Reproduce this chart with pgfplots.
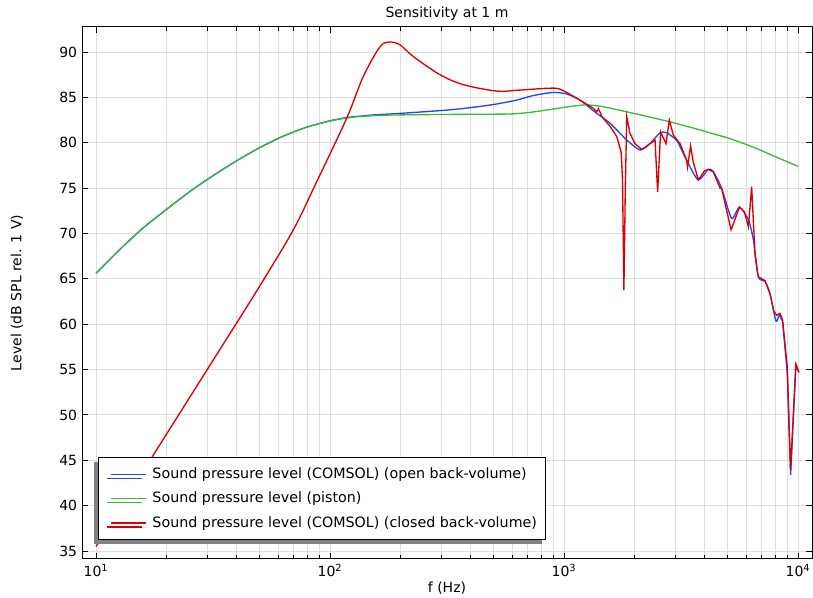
\documentclass[border=0pt]{standalone}
\usepackage{pgfplots}
\pgfplotsset{compat=1.18}
\usepackage{fontspec}
\setmainfont{DejaVu Sans}
\usetikzlibrary{shadows}
\definecolor{cblue}{RGB}{30,70,255}
\definecolor{cgreen}{RGB}{55,188,55}
\definecolor{cred}{RGB}{218,0,0}
\definecolor{cgrid}{RGB}{222,222,222}
\begin{document}
\fontsize{10.5pt}{12.6pt}\selectfont
\begin{tikzpicture}
\begin{axis}[
  scale only axis, width=547.5pt, height=399pt,
  xmode=log, xmin=8.71, xmax=11477, ymin=34.12, ymax=92.76,
  xtick={10,100,1000,10000},
  xticklabels={10\textsuperscript{1},10\textsuperscript{2},10\textsuperscript{3},10\textsuperscript{4}},
  minor xtick={20,30,40,50,60,70,80,90,200,300,400,500,600,700,800,900,2000,3000,4000,5000,6000,7000,8000,9000},
  ytick={35,40,45,50,55,60,65,70,75,80,85,90},
  /pgf/number format/assume math mode=true,
  grid=both,
  major grid style={cgrid, line width=0.75pt},
  minor grid style={cgrid, line width=0.75pt},
  tick align=inside, xtick pos=both, ytick pos=both,
  major tick length=4.5pt, minor tick length=3pt,
  every tick/.style={black, line width=0.75pt},
  axis line style={line width=0.75pt},
  every axis title shift=0pt,
  title={Sensitivity at 1 m},
  title style={at={(axis description cs:0.5,1.0244)}, anchor=center},
  xlabel={f (Hz)},
  xlabel style={at={(axis description cs:0.5,-0.0545)}, anchor=center},
  ylabel={Level (dB SPL rel. 1 V)},
  ylabel style={at={(axis description cs:-0.089,0.5)}, anchor=center, rotate=0},
  legend style={at={(axis description cs:0.0219,0.0357)}, anchor=south west,
    draw=black, line width=0.75pt, fill=white,
    inner xsep=4.5pt, inner ysep=5pt, row sep=3.6pt,
    font=\fontsize{10.7pt}{12.8pt}\selectfont,
    cells={anchor=west},
    nodes={inner xsep=2.25pt, inner ysep=2.5pt},
    drop shadow={shadow xshift=-3pt, shadow yshift=-3pt, fill=black!50, opacity=1}},
  legend image code/.code={\path (0pt,0pt) (32.75pt,0pt); \draw[#1, line width=1pt] (4.25pt,0pt) -- (31pt,0pt);},
]
% open back-volume (blue)
\addplot[cblue, line width=1pt, smooth, tension=0.4] coordinates {
(10,65.6) (12.6,68.2) (15.8,70.55) (20,72.65) (25.1,74.6) (31.6,76.37) (39.8,77.99)
(50.1,79.47) (63.1,80.73) (79.4,81.71) (100,82.42) (118,82.78) (150,83.05) (200,83.24)
(316,83.6) (407,83.9) (515,84.27) (628,84.7) (738,85.2) (900,85.55) (1028,85.37)
(1170,84.7) (1334,83.53) (1574,82.14) (1855,80.3) (2114,79.2) (2333,79.93) (2573,81.1)
(2747,81.1) (3023,80.3) (3133,79.56) (3395,77.73) (3750,75.9) (4140,77.07) (4350,76.8)
(4720,74.98) (5200,71.67) (5620,72.9) (6140,71.5) (6445,69.3) (6760,65.24) (7225,64.7)
(7585,63.4) (8050,60.35) (8315,61.0) (8595,60.27)
};
\addlegendentry{Sound pressure level (COMSOL) (open back-volume)}
% piston (green)
\addplot[cgreen, line width=1pt, smooth, tension=0.5] coordinates {
(10,65.6) (12.6,68.2) (15.8,70.55) (20,72.65) (25.1,74.6) (31.6,76.37) (39.8,77.99)
(50.1,79.47) (63.1,80.73) (79.4,81.71) (100,82.4) (126,82.82) (158,83.0) (200,83.07)
(316,83.12) (500,83.15) (600,83.18) (716,83.35) (890,83.7) (1100,84.05) (1250,84.16)
(1470,83.97) (2040,83.17) (2840,82.3) (3470,81.7) (3981,81.27) (4467,80.9) (5120,80.45)
(6310,79.6) (7110,79.05) (7943,78.5) (10000,77.4)
};
\addlegendentry{Sound pressure level (piston)}
% blue tail
\addplot[cblue, line width=1pt, forget plot] coordinates {
(8595,60.27) (9000,54.6) (9300,43.4) (9790,55.5) (10090,54.7)
};
% closed back-volume (red)
\addplot[cred, line width=1pt, smooth, tension=0.5] coordinates {
(10,35.5) (17.6,45.6) (31.6,56.0) (49.4,63.96) (69.7,70.4) (87.7,75.7) (117.8,82.7)
(138.7,87.3) (163.7,90.6) (180.3,91.1) (199,90.8) (227,89.5) (295,87.5) (371.5,86.4)
(515,85.7) (645.7,85.8) (843.3,86.0) (961.6,85.9) (1169.5,84.7) (1333.5,83.8)
};
\addlegendentry{Sound pressure level (COMSOL) (closed back-volume)}
\addplot[cred, line width=1pt, forget plot] coordinates {
(1333.5,83.8) (1380,83.4) (1403,83.75) (1429,83.3) (1449,82.9) (1574,81.8)
(1679,80.7) (1754,79.0) (1778,76) (1803,63.77) (1828,75) (1854,82.87) (1914,81.04)
(2009,79.9) (2148,79.27) (2291,79.75) (2449,80.3) (2512,74.6) (2588,81.2)
(2729,79.9) (2818,82.5) (2931,80.85) (3133,79.9) (3342,78.1) (3373,77.3)
(3475,79.64) (3565,77.9) (3750,75.9) (3981,76.9) (4140,77.07) (4345,76.8)
(4645,75.0) (4710,75.05) (5176,70.4) (5623,72.9) (5900,72.4) (6138,70.75) (6339,75.15)
(6546,67.8) (6761,65.24) (7228,64.8) (7586,63.4) (7889,61.4) (8110,61.0)
(8375,61.2) (8590,60.5) (8995,55.3) (9290,43.9) (9795,55.6) (10090,54.7)
};
\end{axis}
\pgfresetboundingbox
\path[use as bounding box] ([xshift=-61.5pt,yshift=-29.25pt]current axis.south west) rectangle ([xshift=0.75pt,yshift=20.25pt]current axis.north east);
\end{tikzpicture}
\end{document}
